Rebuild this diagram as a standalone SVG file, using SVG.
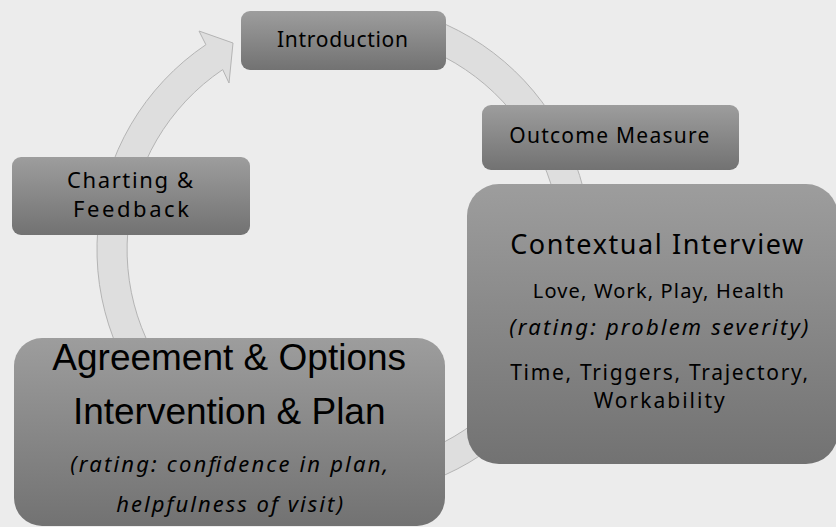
<svg xmlns="http://www.w3.org/2000/svg" width="836" height="527" viewBox="0 0 836 527">
  <defs>
    <linearGradient id="boxGrad" x1="0" y1="0" x2="0" y2="1">
      <stop offset="0" stop-color="#9d9d9d"/>
      <stop offset="1" stop-color="#727272"/>
    </linearGradient>
    <style>
      .box { fill: url(#boxGrad); }
      .t { font-family: "Noto Sans", "Open Sans", "DejaVu Sans", sans-serif; fill: #000000; text-anchor: middle; }
      .it { font-style: italic; }
      .big { font-family: "Liberation Sans", Arial, sans-serif; fill: #000000; text-anchor: middle; font-size: 37px; }
      .arc { fill: #dedede; stroke: #b4b4b4; stroke-width: 1; }
    </style>
  </defs>

  <rect width="836" height="527" fill="#ececec"/>

  <g id="connectors">
    <path class="arc" d="M 420.3 14.6 A 247 247 0 1 1 205.9 44.7 L 199 31 L 233 43 L 229 83 L 222.7 69.6 A 217 217 0 1 0 411.1 43.1 Z"/>
  </g>

  <g id="introduction">
    <rect class="box" x="241" y="11" width="205" height="59" rx="9"/>
    <text class="t" x="342.5" y="46.5" font-size="21" textLength="131" lengthAdjust="spacing">Introduction</text>
  </g>

  <g id="outcome-measure">
    <rect class="box" x="482" y="105" width="257" height="65" rx="9"/>
    <text class="t" x="609.3" y="143.3" font-size="21" textLength="200" lengthAdjust="spacing">Outcome Measure</text>
  </g>

  <g id="charting-feedback">
    <rect class="box" x="12" y="157" width="238" height="78" rx="9"/>
    <text class="t" x="130" y="188.3" font-size="22" textLength="126" lengthAdjust="spacing">Charting &amp;</text>
    <text class="t" x="131" y="216.7" font-size="22" textLength="116" lengthAdjust="spacing">Feedback</text>
  </g>

  <g id="contextual-interview">
    <rect class="box" x="467" y="184" width="371" height="280" rx="32"/>
    <text class="t" x="656.7" y="254.3" font-size="27" textLength="293" lengthAdjust="spacing">Contextual Interview</text>
    <text class="t" x="658.3" y="298.3" font-size="20" textLength="251" lengthAdjust="spacing">Love, Work, Play, Health</text>
    <text class="t it" x="658.8" y="335" font-size="22" textLength="299" lengthAdjust="spacing">(rating: problem severity)</text>
    <text class="t" x="659.2" y="380" font-size="21" textLength="298" lengthAdjust="spacing">Time, Triggers, Trajectory,</text>
    <text class="t" x="659.2" y="408.3" font-size="21" textLength="131" lengthAdjust="spacing">Workability</text>
  </g>

  <g id="agreement-plan">
    <rect class="box" x="14" y="338" width="431" height="188" rx="28"/>
    <text class="big" x="229.2" y="370">Agreement &amp; Options</text>
    <text class="big" x="229.2" y="424.3">Intervention &amp; Plan</text>
    <text class="t it" x="229.2" y="471.7" font-size="22" textLength="318" lengthAdjust="spacing">(rating: confidence in plan,</text>
    <text class="t it" x="229.7" y="511.7" font-size="22" textLength="227" lengthAdjust="spacing">helpfulness of visit)</text>
  </g>
</svg>
